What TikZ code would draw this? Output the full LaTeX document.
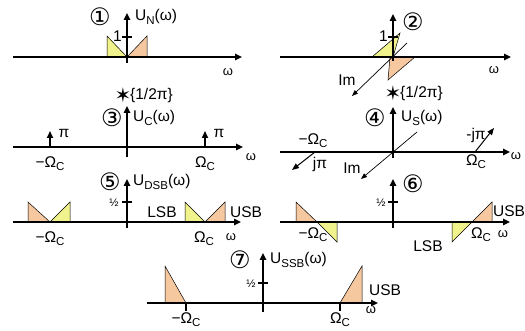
\documentclass[tikz,border=0pt]{standalone}
\usepackage{fontspec}
\setmainfont{Liberation Sans}
\newfontfamily\dejavu{DejaVu Sans}
\usetikzlibrary{arrows.meta}
\definecolor{yel}{RGB}{240,242,140}
\definecolor{org}{RGB}{246,200,160}
\newcommand\sbs[1]{\raisebox{-0.4ex}{\fontsize{11.5}{12}\selectfont #1}}
\newcommand\cnum[1]{{\dejavu\fontsize{24}{24}\selectfont #1}}
\newcommand\cstar{{\dejavu\fontsize{20}{20}\selectfont ✶}}
\begin{document}
\begin{tikzpicture}[x=1pt,y=-1pt,
 axis/.style={line width=1.6pt,-{Triangle[length=7pt,width=6.5pt]}},
 imax/.style={line width=0.7pt,-{Triangle[length=6pt,width=4.5pt]}},
 imp/.style={line width=1.6pt,-{Triangle[length=7pt,width=6pt]}},
 dimp/.style={line width=1pt,-{Triangle[length=7pt,width=5.5pt]}},
 ytri/.style={fill=yel,draw=black,line width=0.5pt},
 otri/.style={fill=org,draw=black,line width=0.5pt},
 lbl/.style={inner sep=0pt,font=\fontsize{15.5}{16}\selectfont},
 sml/.style={inner sep=0pt,font=\fontsize{13}{13}\selectfont},
 half/.style={inner sep=0pt,font=\fontsize{11}{11}\selectfont},
 cn/.style={inner sep=0pt},
 tck/.style={line width=1.2pt}]
\useasboundingbox (0,0) rectangle (525,331);
% ---------- panel 1
\coordinate (o1) at (127,57);
\draw[ytri] (107,36) -- (107,57) -- (o1) -- cycle;
\draw[otri] (o1) -- (147,36) -- (147,57) -- cycle;
\coordinate (h1a) at (13,57); \coordinate (h1b) at (242,57);
\coordinate (v1a) at (127,63); \coordinate (v1b) at (127,13);
\draw[axis] (h1a) -- (h1b);
\draw[axis] (v1a) -- (v1b);
\draw[tck] (122,37) -- (132,37);
\node[lbl,anchor=east] (one1) at (122,36) {1};
\node[cn] (c1) at (100,17) {\cnum{①}};
\node[lbl,anchor=west] (u1) at (135,17) {U\sbs{N}(ω)};
\node[sml] (w1) at (228,72) {ω};
% ---------- panel 2
\coordinate (o2) at (393,57);
\draw[ytri] (372,57) -- (400,33) -- (o2) -- cycle;
\draw[otri] (390,57) -- (415,57) -- (388,80) -- cycle;
\coordinate (h2a) at (280,57); \coordinate (h2b) at (511,57);
\coordinate (v2a) at (393,61); \coordinate (v2b) at (393,14);
\coordinate (i2a) at (407,43); \coordinate (i2b) at (352,96);
\draw[axis] (h2a) -- (h2b);
\draw[axis] (v2a) -- (v2b);
\draw[imax] (i2a) -- (i2b);
\draw[tck] (388,37) -- (398,37);
\node[lbl,anchor=east] (one2) at (388,36) {1};
\node[cn] (c2) at (413,22) {\cnum{②}};
\node[lbl] (im2) at (347,80) {Im};
\node[sml] (w2) at (494,70) {ω};
% ---------- panel 3
\coordinate (h3a) at (13,147); \coordinate (h3b) at (243,147);
\coordinate (v3a) at (127,157); \coordinate (v3b) at (127,106);
\draw[axis] (h3a) -- (h3b);
\draw[axis] (v3a) -- (v3b);
\coordinate (p3a) at (50,147); \coordinate (p3b) at (50,131);
\coordinate (q3a) at (205,147); \coordinate (q3b) at (205,131);
\draw[imp] (p3a) -- (p3b);
\draw[imp] (q3a) -- (q3b);
\node[lbl] (pi3a) at (64,133) {π};
\node[lbl] (pi3b) at (219,133) {π};
\node[cn] (s3) at (123,95) {\cstar};
\node[lbl,anchor=west] (k3) at (130,95) {\{1/2π\}};
\node[cn] (c3) at (112,118) {\cnum{③}};
\node[lbl,anchor=west] (u3) at (133,118) {U\sbs{C}(ω)};
\node[lbl] (m3) at (50,164) {−Ω\sbs{C}};
\node[lbl] (n3) at (205,164) {Ω\sbs{C}};
\node[sml] (w3) at (251,157) {ω};
% ---------- panel 4
\coordinate (h4a) at (280,152); \coordinate (h4b) at (510,152);
\coordinate (v4a) at (393,158); \coordinate (v4b) at (393,107);
\coordinate (i4a) at (417,132); \coordinate (i4b) at (361,179);
\draw[axis] (h4a) -- (h4b);
\draw[axis] (v4a) -- (v4b);
\draw[imax] (i4a) -- (i4b);
\coordinate (p4a) at (315,152); \coordinate (p4b) at (292,170);
\coordinate (q4a) at (475,152); \coordinate (q4b) at (494,128);
\draw[dimp] (p4a) -- (p4b);
\draw[dimp] (q4a) -- (q4b);
\node[cn] (s4) at (393,93) {\cstar};
\node[lbl,anchor=west] (k4) at (400,93) {\{1/2π\}};
\node[cn] (c4) at (375,118) {\cnum{④}};
\node[lbl,anchor=west] (u4) at (401,118) {U\sbs{S}(ω)};
\node[lbl] (m4) at (313,141) {−Ω\sbs{C}};
\node[lbl] (j4) at (320,164) {jπ};
\node[lbl] (im4) at (352,168) {Im};
\node[lbl] (mj4) at (476,135) {-jπ};
\node[lbl] (n4) at (476,162) {Ω\sbs{C}};
\node[sml] (w4) at (516,156) {ω};
% ---------- panel 5
\draw[otri] (28,202) -- (28,222) -- (50,222) -- cycle;
\draw[ytri] (50,222) -- (70,202) -- (70,222) -- cycle;
\draw[ytri] (185,202) -- (185,222) -- (205,222) -- cycle;
\draw[otri] (205,222) -- (225,202) -- (225,222) -- cycle;
\coordinate (h5a) at (13,222); \coordinate (h5b) at (241,222);
\coordinate (v5a) at (127,228); \coordinate (v5b) at (127,179);
\draw[axis] (h5a) -- (h5b);
\draw[axis] (v5a) -- (v5b);
\draw[tck] (122,202) -- (132,202);
\node[half] (hf5) at (114,203) {½};
\node[cn] (c5) at (110,182) {\cnum{⑤}};
\node[lbl,anchor=west] (u5) at (133,182) {U\sbs{DSB}(ω)};
\node[lbl] (l5) at (162,212) {LSB};
\node[lbl,anchor=west] (r5) at (230,212) {USB};
\node[lbl] (m5) at (50,239) {−Ω\sbs{C}};
\node[lbl] (n5) at (204,239) {Ω\sbs{C}};
\node[sml] (w5) at (231,237) {ω};
% ---------- panel 6
\draw[otri] (296,202) -- (296,222) -- (317,222) -- cycle;
\draw[ytri] (317,222) -- (337,222) -- (337,242) -- cycle;
\draw[ytri] (452,222) -- (472,222) -- (452,242) -- cycle;
\draw[otri] (472,222) -- (492,202) -- (492,222) -- cycle;
\coordinate (h6a) at (280,222); \coordinate (h6b) at (510,222);
\coordinate (v6a) at (393,228); \coordinate (v6b) at (393,179);
\draw[axis] (h6a) -- (h6b);
\draw[axis] (v6a) -- (v6b);
\draw[tck] (388,202) -- (398,202);
\node[half] (hf6) at (381,203) {½};
\node[cn] (c6) at (413,184) {\cnum{⑥}};
\node[lbl,anchor=west] (r6) at (493,211) {USB};
\node[lbl] (l6) at (428,246) {LSB};
\node[lbl] (m6) at (313,235) {−Ω\sbs{C}};
\node[lbl] (n6) at (481,235) {Ω\sbs{C}};
\node[sml] (w6) at (503,234) {ω};
% ---------- panel 7
\draw[otri] (165,266) -- (165,303) -- (186,303) -- cycle;
\draw[otri] (340,303) -- (362,266) -- (362,303) -- cycle;
\coordinate (h7a) at (147,303); \coordinate (h7b) at (378,303);
\coordinate (v7a) at (263,312); \coordinate (v7b) at (263,253);
\draw[axis] (h7a) -- (h7b);
\draw[axis] (v7a) -- (v7b);
\draw[line width=1.4pt] (186,303) -- (186,311);
\draw[line width=1.4pt] (340,303) -- (340,311);
\draw[tck] (258,283) -- (268,283);
\node[half] (hf7) at (251,284) {½};
\node[cn] (c7) at (240,260) {\cnum{⑦}};
\node[lbl,anchor=west] (u7) at (270,260) {U\sbs{SSB}(ω)};
\node[lbl,anchor=west] (r7) at (369,290) {USB};
\node[lbl] (m7) at (186,320) {−Ω\sbs{C}};
\node[lbl] (n7) at (340,320) {Ω\sbs{C}};
\node[sml] (w7) at (371,310) {ω};
\end{tikzpicture}
\end{document}
